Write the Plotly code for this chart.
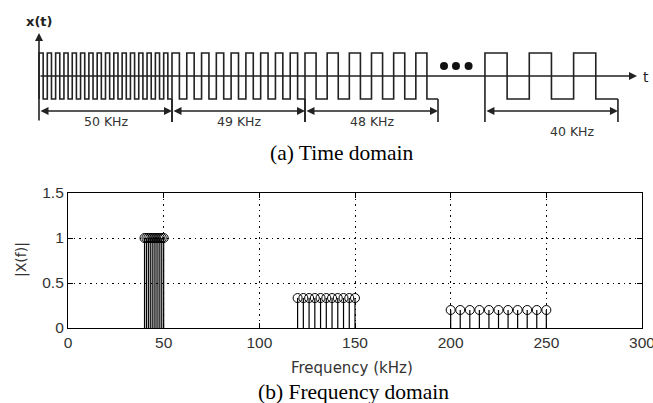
import plotly.graph_objects as go

# ---------------- data ----------------
# (b) frequency domain: stems
freq_fund = [40, 41, 42, 43, 44, 45, 46, 47, 48, 49, 50]
mag_fund = [1, 1, 1, 1, 1, 1, 1, 1, 1, 1, 1]
freq_3rd = [120, 123, 126, 129, 132, 135, 138, 141, 144, 147, 150]
mag_3rd = [0.333, 0.333, 0.333, 0.333, 0.333, 0.333, 0.333, 0.333, 0.333, 0.333, 0.333]
freq_5th = [200, 205, 210, 215, 220, 225, 230, 235, 240, 245, 250]
mag_5th = [0.2, 0.2, 0.2, 0.2, 0.2, 0.2, 0.2, 0.2, 0.2, 0.2, 0.2]
x_ticks = [0, 50, 100, 150, 200, 250, 300]
y_ticks = [0, 0.5, 1, 1.5]
y_ticktext = ["0", "0.5", "1", "1.5"]

# (a) time domain schematic: segments of the swept square wave
seg_labels = ["50 KHz", "49 KHz", "48 KHz", "40 KHz"]
seg_cycles = [16, 9, 6, 3]          # drawn cycles per segment
seg_start = [0, 1, 2, 3.353]        # segment start (schematic time units)
seg_len = 1.0
dots_x = [3.045, 3.135, 3.23]       # "..." between segments

W, H = 653, 403
fig = go.Figure()

# ---------- frequency domain stems ----------
all_f = freq_fund + freq_3rd + freq_5th
all_m = mag_fund + mag_3rd + mag_5th
sx, sy = [], []
for f, m in zip(all_f, all_m):
    sx += [f, f, None]
    sy += [0, m, None]
fig.add_trace(go.Scatter(x=sx, y=sy, mode="lines",
                         line=dict(color="black", width=1.2),
                         hoverinfo="skip", xaxis="x", yaxis="y"))
fig.add_trace(go.Scatter(x=all_f, y=all_m, mode="markers",
                         marker=dict(symbol="circle-open", size=9,
                                     color="black", line=dict(width=1, color="black")),
                         xaxis="x", yaxis="y"))

# ---------- time domain schematic ----------
wx, wy = [], []
for i, (s, n) in enumerate(zip(seg_start, seg_cycles)):
    if i == 3:
        wx.append(None); wy.append(None)
    p = seg_len / n
    for k in range(n):
        a = s + k * p
        wx += [a, a, a + p / 2, a + p / 2]
        wy += [-1, 1, 1, -1]
    wx.append(s + seg_len); wy.append(-1)
fig.add_trace(go.Scatter(x=wx, y=wy, mode="lines",
                         line=dict(color="#222", width=1.6),
                         hoverinfo="skip", xaxis="x2", yaxis="y2"))

# boundary ticks
tx, ty = [], []
for s in seg_start:
    for b in ([s, s + seg_len] if s != 0 else [s + seg_len]):
        tx += [b, b, None]
        ty += [-1, -2, None]
fig.add_trace(go.Scatter(x=tx, y=ty, mode="lines",
                         line=dict(color="#222", width=1.6),
                         hoverinfo="skip", xaxis="x2", yaxis="y2"))

# dots
fig.add_trace(go.Scatter(x=dots_x, y=[0.43] * len(dots_x), mode="markers",
                         marker=dict(symbol="circle", size=8, color="#111"),
                         xaxis="x2", yaxis="y2"))

annotations = []
arrow_common = dict(xref="x2", yref="y2", axref="x2", ayref="y2", text="",
                    showarrow=True, arrowcolor="#222", arrowwidth=1.6,
                    arrowhead=2, arrowsize=1, standoff=0, startstandoff=0)
# time axis
annotations.append(dict(x=4.496, y=0, ax=0, ay=0, **arrow_common))
# x(t) axis
annotations.append(dict(x=0, y=1.87, ax=0, ay=-2, **arrow_common))
# brackets
for s in seg_start:
    annotations.append(dict(x=s + seg_len, y=-1.52, ax=s, ay=-1.52,
                            arrowside="end+start", startarrowhead=2,
                            startarrowsize=1, **arrow_common))
# segment labels
for i, (s, lab) in enumerate(zip(seg_start, seg_labels)):
    annotations.append(dict(x=s + seg_len / 2, y=-1.96 if i < 3 else -2.43,
                            xref="x2", yref="y2", text=lab, showarrow=False,
                            xshift=0 if i < 3 else 21,
                            font=dict(family="DejaVu Sans", size=12.5, color="#333")))

def pa(px, py, text, size, family, color="#111", angle=0):
    annotations.append(dict(x=px / W, y=1 - py / H, xref="paper", yref="paper",
                            text=text, showarrow=False, textangle=angle,
                            xanchor="center", yanchor="middle",
                            font=dict(size=size, family=family, color=color)))

pa(39, 22, "<b>x(t)</b>", 13, "DejaVu Sans", "#222")
pa(646, 77, "t", 14, "DejaVu Sans", "#222")
pa(342, 153, "(a) Time domain", 21.5, "Liberation Serif", "#000")
pa(352, 368, "Frequency (kHz)", 15, "DejaVu Sans", "#333")
pa(21, 260, "|X(f)|", 14, "DejaVu Sans", "#333", angle=-90)
pa(353, 392, "(b) Frequency domain", 21.5, "Liberation Serif", "#000")

axis_common = dict(showline=True, linecolor="black", linewidth=1.2, mirror="ticks",
                   ticks="inside", ticklen=5, tickcolor="black",
                   showgrid=True, gridcolor="black", griddash="1.5px,4px", gridwidth=1.2,
                   zeroline=False, automargin=False, ticklabeloverflow="allow",
                   tickfont=dict(family="Liberation Sans", size=15.5, color="#333"))

fig.update_layout(
    width=W, height=H, margin=dict(l=0, r=0, t=0, b=0, pad=0),
    paper_bgcolor="white", plot_bgcolor="white", showlegend=False,
    xaxis=dict(domain=[68 / W, 642 / W], range=[0, 300], tickvals=x_ticks,
               anchor="y", **axis_common),
    yaxis=dict(domain=[75 / H, 210 / H], range=[0, 1.5], tickvals=y_ticks,
               ticktext=y_ticktext, anchor="x", **axis_common),
    xaxis2=dict(domain=[0, 1], range=[-39 / 133, 614 / 133], visible=False,
                anchor="y2", automargin=False),
    yaxis2=dict(domain=[233 / H, 1], range=[-4.087, 3.304], visible=False,
                anchor="x2", automargin=False),
    annotations=annotations,
)

fig.write_html("out.html", config={"displayModeBar": False},
               post_script="document.body.style.margin='0px';document.body.style.overflow='hidden';")
